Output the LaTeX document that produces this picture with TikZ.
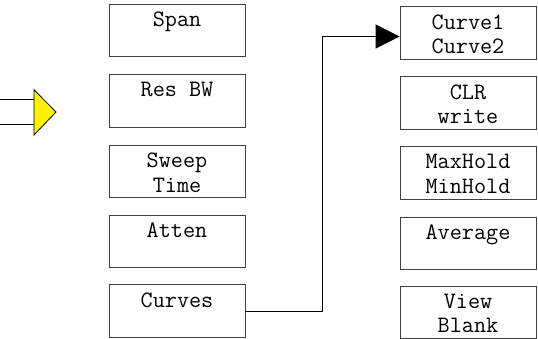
\documentclass[tikz,border=0pt]{standalone}
\usepackage{tikz}
\usetikzlibrary{arrows.meta}

\tikzset{
  menubox/.style={draw=black!75, line width=0.8pt, minimum width=136pt, minimum height=52.5pt, inner sep=0pt},
  menutext/.style={anchor=north, align=center, inner sep=0pt, yshift=-8pt,
    font=\ttfamily\fontsize{23.5}{24.5}\selectfont}
}

\begin{document}
\begin{tikzpicture}[x=1pt, y=-1pt]
\useasboundingbox (0,0) rectangle (538,338);
% left column
\node[menubox, label={[menutext]north:Span}] (span) at (177,30.5) {};
\node[menubox, label={[menutext]north:Res BW}] (resbw) at (177,101) {};
\node[menubox, label={[menutext]north:Sweep\\Time}] (sweep) at (177,171.5) {};
\node[menubox, label={[menutext]north:Atten}] (atten) at (177,241.5) {};
\node[menubox, label={[menutext]north:Curves}] (curves) at (177,311) {};
% right column
\node[menubox, label={[menutext]north:Curve1\\Curve2}] (curvesel) at (468,33) {};
\node[menubox, label={[menutext]north:CLR\\write}] (clrwrite) at (468,103) {};
\node[menubox, label={[menutext]north:MaxHold\\MinHold}] (maxhold) at (468,173) {};
\node[menubox, label={[menutext]north:Average}] (average) at (468,243.5) {};
\node[menubox, label={[menutext]north:View\\Blank}] (viewblank) at (468,312.5) {};
% input triangle
\coordinate (tritop) at (34,89.7);
\coordinate (tribot) at (34,135);
\coordinate (tritip) at (56,112);
\draw[line width=0.8pt] (0,99.5) -- (34,99.5);
\draw[line width=0.8pt] (0,124) -- (34,124);
\filldraw[fill=yellow, draw=black, line width=0.8pt] (tritop) -- (tritip) -- (tribot) -- cycle;
% connector
\coordinate (turn) at (322.5,36.5);
\draw[line width=0.8pt, -{Triangle[length=24pt,width=24pt]}] (curves.east) -| (turn) -- (turn -| curvesel.west);
\end{tikzpicture}
\end{document}
